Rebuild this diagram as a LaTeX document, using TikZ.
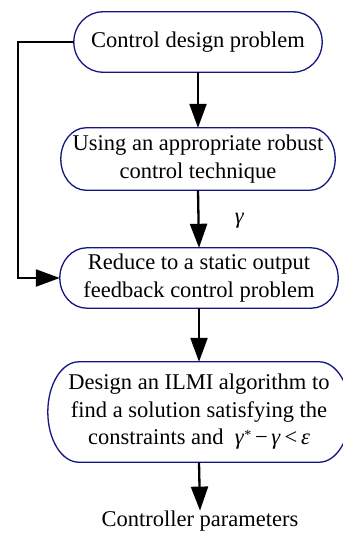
\documentclass[tikz,border=0pt]{standalone}
\usepackage{fontspec}
\setmainfont{Liberation Serif}
\usetikzlibrary{arrows.meta,calc}

\definecolor{boxblue}{RGB}{20,20,130}

\tikzset{
	stage/.style={align=center, inner sep=0pt, font=\rmfamily\fontsize{22.5}{27.5}\selectfont},
	outline/.style={draw=boxblue, line width=1.3pt},
	flow/.style={-{Triangle[length=24pt,width=17pt]}, line width=2.3pt},
}

% oval outline round a node: name, end radius
\newcommand\stadium[2]{%
	\draw[outline] let \p1=(#1.north), \p2=(#1.south), \n1={(\y1-\y2)/2} in
		([xshift=#2]#1.north west) -- ([xshift=-#2]#1.north east)
		arc[start angle=90, end angle=-90, x radius=#2, y radius=\n1]
		-- ([xshift=#2]#1.south west)
		arc[start angle=270, end angle=90, x radius=#2, y radius=\n1] -- cycle;
}

\begin{document}
\begin{tikzpicture}[x=1pt,y=1pt]

	\useasboundingbox (0,0) rectangle (342,-537);

	\node[stage, minimum width=248pt, minimum height=60pt] (design) at (198,-42) {Control design problem};
	\node[stage, minimum width=274pt, minimum height=62pt] (robust) at (198,-159) {Using an appropriate robust\\control technique};
	\node[stage, minimum width=278pt, minimum height=60pt] (reduce) at (199,-278) {Reduce to a static output\\feedback control problem};
	\node[stage, minimum width=302pt, minimum height=100pt] (ilmi) at (199,-412) {Design an ILMI algorithm to\\find a solution satisfying the\\constraints and \ \textit{γ}\raisebox{0.55ex}{\fontsize{14}{14}\selectfont *}\,−\,\textit{γ}\,<\,\textit{ε}};
	\node[stage] (params) at (200,-521) {Controller parameters};

	\stadium{design}{29pt}
	\stadium{robust}{25pt}
	\stadium{reduce}{27pt}
	\stadium{ilmi}{31pt}

	\draw[flow] (design.south) -- (robust.north);
	\draw[flow] (robust.south) -- (reduce.north) node[stage, midway, xshift=41pt, yshift=-2pt] {\textit{γ}};
	\draw[flow] (reduce.south) -- (ilmi.north);
	\draw[flow] (ilmi.south) -- (params.north);

	% feedback path
	\coordinate (back) at (18,-42);
	\draw[flow] (design.west) -- (back) |- (reduce.west);

\end{tikzpicture}
\end{document}
